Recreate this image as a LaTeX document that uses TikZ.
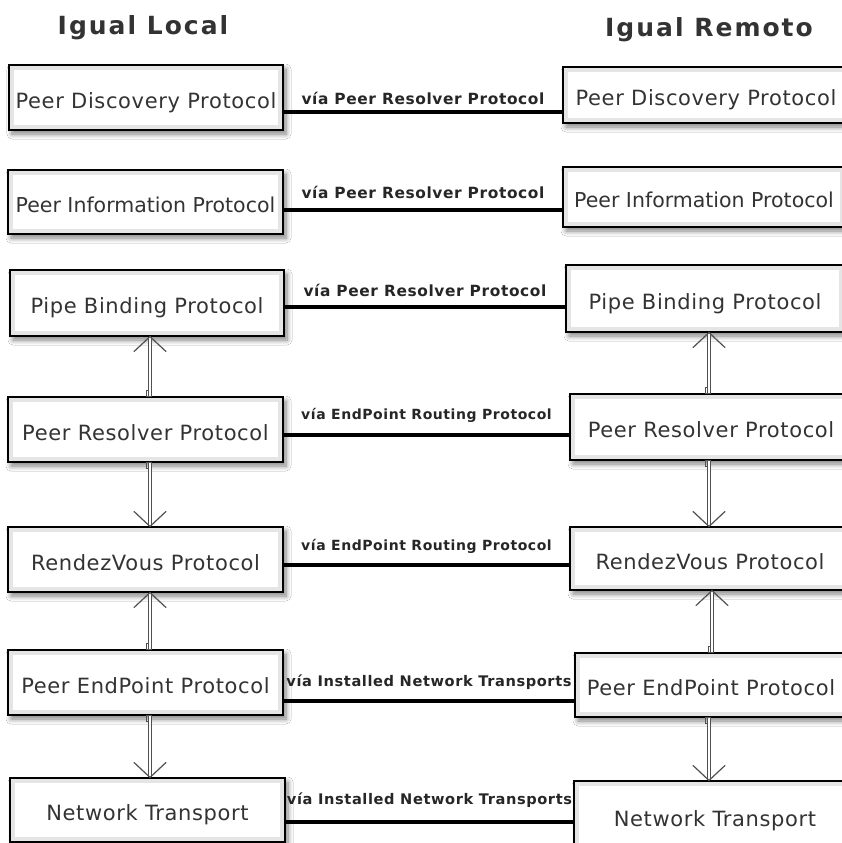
\documentclass[tikz,border=0pt]{standalone}
\usepackage{fontspec}
\setmainfont{DejaVu Sans}
\newfontfamily\boxfont[LetterSpace=3]{DejaVu Sans}
\newfontfamily\tightfont{DejaVu Sans}
\newfontfamily\viafont[LetterSpace=4]{DejaVu Sans}
\newfontfamily\titlefont[LetterSpace=8]{DejaVu Sans}
\usetikzlibrary{shadows.blur}

\definecolor{inkgray}{HTML}{333333}
\definecolor{shaftgray}{HTML}{505050}

\tikzset{
  proto/.style={draw=black, line width=1.1pt, fill=white, inner sep=0pt,
    text=inkgray, font=\boxfont\fontsize{21}{25}\selectfont,
    text height=23pt, text depth=2pt,
    blur shadow={shadow xshift=3pt, shadow yshift=-4pt, shadow blur steps=8,
      shadow blur radius=5pt, shadow opacity=50},
    path picture={\draw[black!10, line width=10pt]
      (path picture bounding box.south west) rectangle (path picture bounding box.north east);}},
  tight/.style={font=\tightfont\fontsize{20.5}{25}\selectfont},
  title/.style={font=\titlefont\bfseries\fontsize{25}{29}\selectfont, text=inkgray},
  link/.style={draw=black, line width=4pt},
  via/.style={font=\viafont\bfseries\fontsize{15.4}{18}\selectfont, text=black!85, inner sep=0pt},
  via small/.style={via, font=\viafont\bfseries\fontsize{14}{17}\selectfont},
  via wide/.style={via, font=\viafont\bfseries\fontsize{14.6}{17}\selectfont},
  shaft/.style={draw=shaftgray, line width=0.7pt, double=white, double distance=2.4pt,
    shorten <=0.6pt, shorten >=0.6pt},
  barb/.style={draw=shaftgray, line width=1.2pt, line cap=round},
  jog/.style={draw=shaftgray, line width=0.7pt}
}

% hollow shaft with an open V head; #1 tail, #2 head, #3 barb offset, #4 tail jog
\newcommand\ductarrow[4]{%
  \draw[shaft] (#1) -- (#2);
  \draw[barb] (#2) ++(-16,#3) -- (#2) -- ++(16,#3);
  \draw[jog] (#1) ++(-1.6,#4) -- ++(-2.4,0) |- (#1) -- ++(1.6,0);
}

\begin{document}
\begin{tikzpicture}[x=1pt, y=-1pt]
  \path[use as bounding box, clip] (0,0) rectangle (842,843);
  \fill[white] (0,0) rectangle (842,843);

  % column titles
  \node[title] (tl) at (143,28) {Igual Local};
  \node[title] (tr) at (709,30) {Igual Remoto};

  % local stack
  \node[proto, minimum width=274pt, minimum height=65pt] (lpd) at (146,97.5) {Peer Discovery Protocol};
  \node[proto, tight, minimum width=275pt, minimum height=64pt] (lpi) at (145.5,202) {Peer Information Protocol};
  \node[proto, minimum width=274pt, minimum height=66pt] (lpb) at (147,303) {Pipe Binding Protocol};
  \node[proto, minimum width=275pt, minimum height=65pt] (lpr) at (145.5,429.5) {Peer Resolver Protocol};
  \node[proto, minimum width=275pt, minimum height=65pt] (lrv) at (145.5,559.5) {RendezVous Protocol};
  \node[proto, minimum width=275pt, minimum height=65pt] (lpe) at (145.5,682.5) {Peer EndPoint Protocol};
  \node[proto, minimum width=275pt, minimum height=64pt] (lnt) at (147.5,810) {Network Transport};

  % remote stack (right edges run past the frame)
  \node[proto, minimum width=286pt, minimum height=56pt] (rpd) at (706,95) {Peer Discovery Protocol};
  \node[proto, tight, minimum width=282pt, minimum height=60pt] (rpi) at (704,197) {Peer Information Protocol};
  \node[proto, minimum width=278pt, minimum height=67pt] (rpb) at (705,298.5) {Pipe Binding Protocol};
  \node[proto, minimum width=282pt, minimum height=66pt] (rpr) at (711,427) {Peer Resolver Protocol};
  \node[proto, minimum width=280pt, minimum height=63pt] (rrv) at (710,558.5) {RendezVous Protocol};
  \node[proto, minimum width=272pt, minimum height=64pt] (rpe) at (711,685) {Peer EndPoint Protocol};
  \node[proto, minimum width=282pt, minimum height=69pt] (rnt) at (715,815.5) {Network Transport};

  % peer-to-peer links
  \draw[link] (lpd.east |- 0,112) -- (rpd.west |- 0,112)
    node[via, midway, yshift=14pt] {vía Peer Resolver Protocol};
  \draw[link] (lpi.east |- 0,210) -- (rpi.west |- 0,210)
    node[via, midway, yshift=18pt] {vía Peer Resolver Protocol};
  \draw[link] (lpb.east |- 0,307) -- (rpb.west |- 0,307)
    node[via, midway, yshift=17pt] {vía Peer Resolver Protocol};
  \draw[link] (lpr.east |- 0,435) -- (rpr.west |- 0,435)
    node[via small, midway, yshift=20pt] {vía EndPoint Routing Protocol};
  \draw[link] (lrv.east |- 0,565) -- (rrv.west |- 0,565)
    node[via small, midway, yshift=19pt] {vía EndPoint Routing Protocol};
  \draw[link] (lpe.east |- 0,701) -- (rpe.west |- 0,701)
    node[via wide, midway, yshift=19pt] {vía Installed Network Transports};
  \draw[link] (lnt.east |- 0,822) -- (rnt.west |- 0,822)
    node[via wide, midway, yshift=22pt] {vía Installed Network Transports};

  % stack arrows
  \coordinate (lcol) at (150,0);
  \coordinate (rcol) at (709,0);
  \coordinate (rcolb) at (712,0);

  \coordinate (a1t) at (lpr.north -| lcol); \coordinate (a1h) at (lpb.south -| lcol);
  \coordinate (a2t) at (lpr.south -| lcol); \coordinate (a2h) at (lrv.north -| lcol);
  \coordinate (a3t) at (lpe.north -| lcol); \coordinate (a3h) at (lrv.south -| lcol);
  \coordinate (a4t) at (lpe.south -| lcol); \coordinate (a4h) at (lnt.north -| lcol);
  \coordinate (b1t) at (rpr.north -| rcol); \coordinate (b1h) at (rpb.south -| rcol);
  \coordinate (b2t) at (rpr.south -| rcol); \coordinate (b2h) at (rrv.north -| rcol);
  \coordinate (b3t) at (rpe.north -| rcolb); \coordinate (b3h) at (rrv.south -| rcolb);
  \coordinate (b4t) at (rpe.south -| rcol); \coordinate (b4h) at (rnt.north -| rcol);

  \ductarrow{a1t}{a1h}{15}{-6}
  \ductarrow{a2t}{a2h}{-15}{6}
  \ductarrow{a3t}{a3h}{15}{-6}
  \ductarrow{a4t}{a4h}{-15}{6}
  \ductarrow{b1t}{b1h}{15}{-6}
  \ductarrow{b2t}{b2h}{-15}{6}
  \ductarrow{b3t}{b3h}{15}{-6}
  \ductarrow{b4t}{b4h}{-15}{6}
\end{tikzpicture}
\end{document}
